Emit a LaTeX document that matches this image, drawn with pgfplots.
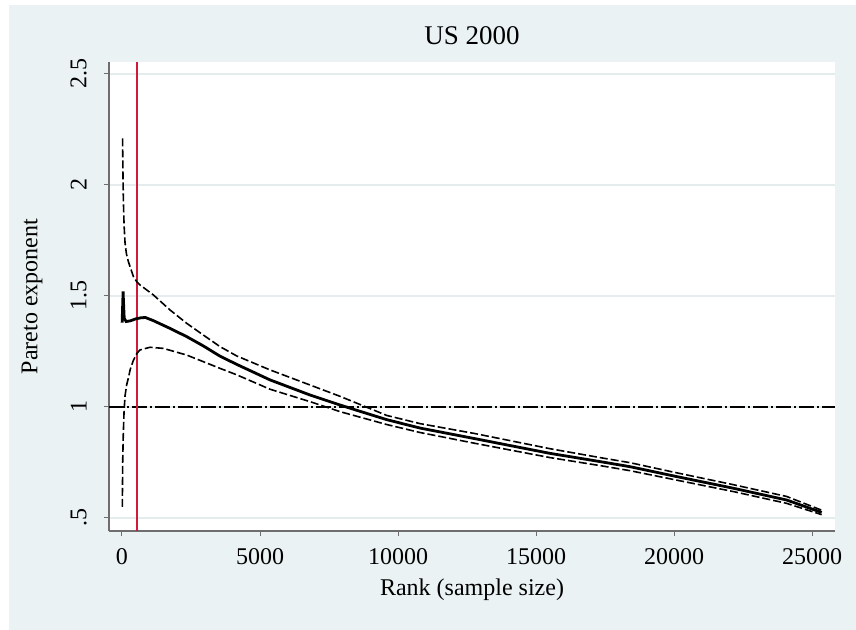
\documentclass[border=0pt]{standalone}
\usepackage{pgfplots}
\pgfplotsset{compat=1.18}
\usepackage{pgfplotstable}
\usepackage{fontspec}
\setmainfont{Liberation Serif}
\definecolor{bgc}{RGB}{234,242,243}
\definecolor{gridc}{RGB}{228,236,238}
\definecolor{axc}{RGB}{110,110,110}
\definecolor{redc}{RGB}{208,26,60}

\pgfplotstableread{
x y
5 1.38
20 1.44
40 1.52
55 1.47
80 1.40
150 1.385
300 1.388
500 1.397
700 1.402
850 1.403
1135 1.389
1740 1.354
2343 1.317
2947 1.275
3550 1.229
4155 1.192
5362 1.122
6812 1.054
7899 1.009
8380 0.990
9590 0.943
10800 0.905
12800 0.857
15510 0.791
17320 0.754
18410 0.731
20000 0.689
22150 0.634
24080 0.581
25350 0.525
}\esttab

\pgfplotstableread{
x y
20 2.21
35 2.05
50 1.93
75 1.82
110 1.74
160 1.69
230 1.655
411 1.588
530 1.565
652 1.55
1135 1.505
1740 1.437
2343 1.377
2947 1.324
3550 1.272
4155 1.230
5362 1.167
6812 1.099
7900 1.048
9590 0.962
10800 0.925
12800 0.880
15510 0.812
17320 0.772
18410 0.749
20000 0.706
22150 0.650
24080 0.597
25350 0.535
}\uppertab

\pgfplotstableread{
x y
12 0.55
25 0.75
45 0.87
75 0.98
110 1.05
170 1.10
230 1.13
300 1.17
411 1.21
543 1.242
652 1.257
1014 1.269
1496 1.264
2343 1.234
2947 1.204
3550 1.174
4155 1.145
5362 1.08
6812 1.024
7899 0.979
9590 0.921
10800 0.885
12800 0.836
15510 0.772
17320 0.736
18410 0.713
20000 0.673
22150 0.619
24080 0.566
25350 0.515
}\lowertab

\begin{document}
\begin{tikzpicture}[font=\fontsize{12}{14}\selectfont]
\useasboundingbox (0,0) rectangle (428pt,315pt);
\fill[white] (0,0) rectangle (428pt,315pt);
\fill[bgc] (4.5pt,0) rectangle (428pt,312.5pt);
\begin{axis}[
  at={(54.5pt,49.5pt)}, anchor=south west,
  scale only axis, width=363pt, height=234.5pt,
  xmin=-471, xmax=25833, ymin=0.4414, ymax=2.554,
  axis x line*=bottom, axis y line*=left,
  axis line style={axc, line width=0.7pt, -},
  axis background/.style={fill=white},
  xtick={0,5000,10000,15000,20000,25000},
  xticklabels={0,5000,10000,15000,20000,25000},
  ytick={0.5,1,1.5,2,2.5}, yticklabels={.5,1,1.5,2,2.5},
  scaled x ticks=false,
  tick align=outside, major tick length=2.5pt,
  tick style={axc, line width=0.5pt},
  ymajorgrids, major grid style={gridc, line width=0.8pt},
  title={US 2000},
  title style={at={(rel axis cs:0.5,1.030)}, anchor=center, font=\fontsize{13.5}{15}\selectfont},
  xlabel={Rank (sample size)},
  xlabel style={at={(rel axis cs:0.5,-0.1258)}, anchor=center},
  ylabel={Pareto exponent},
  ylabel style={at={(rel axis cs:-0.106,0.5)}, anchor=center},
  xticklabel style={anchor=north, inner sep=0pt},
  xticklabel shift=6pt,
  yticklabel style={rotate=90, anchor=south, inner sep=0pt},
  yticklabel shift=8.5pt,
  clip=true,
]
\addplot[black, line width=0.75pt, dash pattern=on 7.5pt off 1.5pt on 1pt off 1.5pt] coordinates {(-471,1) (25833,1)};
\addplot[redc, line width=1pt] coordinates {(530,0.4414) (530,2.554)};
\addplot[black, line width=0.8pt, dash pattern=on 4pt off 1.5pt] table[x=x,y=y] {\uppertab};
\addplot[black, line width=0.8pt, dash pattern=on 4pt off 1.5pt] table[x=x,y=y] {\lowertab};
\addplot[black, line width=1.4pt] table[x=x,y=y] {\esttab};
\end{axis}
\end{tikzpicture}
\end{document}
